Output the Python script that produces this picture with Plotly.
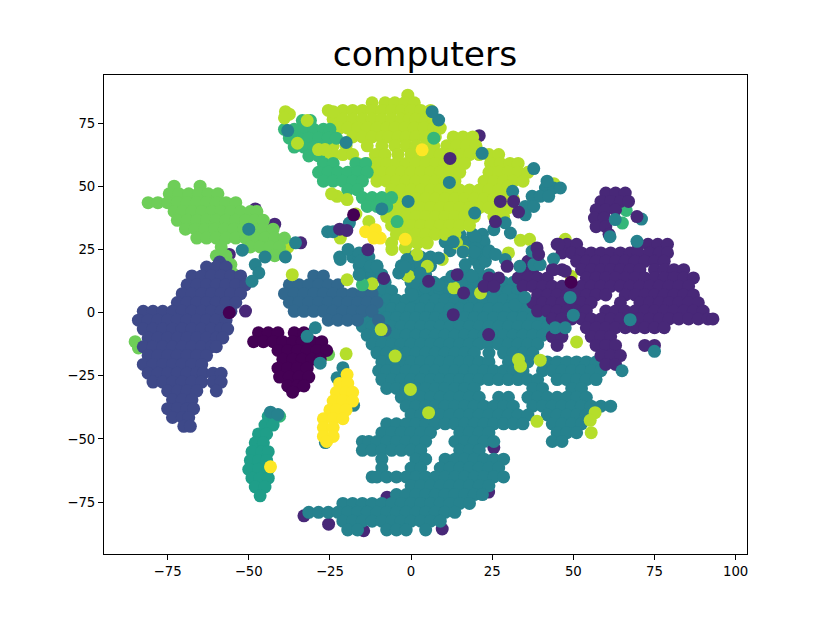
# t-SNE style scatter "computers"
import plotly.graph_objects as go

x_ticks = [-75, -50, -25, 0, 25, 50, 75, 100]
y_ticks = [-75, -50, -25, 0, 25, 50, 75]

# class colours
c_dark = "#440154"
c_purple = "#482878"
c_indigo = "#3e4989"
c_steel = "#31688e"
c_teal = "#26828e"
c_sea = "#1f9e89"
c_green = "#35b779"
c_lime = "#6ece58"
c_yg = "#b5de2b"
c_yellow = "#fde725"

# rows: y value -> x values
teal_rows = {
    31: [12, 15, 19, 22],
    28: [10.5, 13.5, 16.5, 19.5, 22.5],
    24.5: [12, 18, 21, 24],
    22: [-22, -18, -16, -13, 0, 3, 6],
    21: [19.5, 22.5],
    18.5: [-16, -13, -10.5, -3, 0, 3, 6, 21],
    15: [-15, -12, -9, -1.5, 1.5, 4.5, 15, 18, 21, 24],
    12: [-12, -8, 0, 3, 7, 10.5, 13.5, 16.5, 19.5, 22.5, 25.5, 28.5, 31.5],
    8.5: [-12, -9, -6, 0, 3, 6, 9, 12, 15, 18, 21, 24, 27, 30, 33],
    5: [-13.5, -10.5, -7.5, -4.5, -1.5, 1.5, 4.5, 7.5, 10.5, 13.5, 16.5, 19.5, 22.5, 25.5, 28.5, 31.5, 34.5],
    1.5: [-15, -12, -9, -6, -3, 0, 3, 6, 9, 12, 15, 18, 21, 24, 27, 30, 33, 36],
    -2: [-13.5, -10.5, -7.5, -4.5, -1.5, 1.5, 4.5, 7.5, 10.5, 13.5, 16.5, 19.5, 22.5, 25.5, 28.5, 31.5, 34.5, 37.5, 40.5, 43.5],
    -5.5: [-15, -12, -9, -6, -3, 0, 3, 6, 9, 12, 15, 18, 21, 24, 27, 30, 33, 36, 39, 42, 45],
    -9: [-13.5, -10.5, -7.5, -4.5, -1.5, 1.5, 4.5, 7.5, 10.5, 13.5, 16.5, 19.5, 22.5, 25.5, 28.5, 31.5, 34.5, 37.5, 40.5],
    -12.5: [-12, -9, -6, -3, 0, 3, 6, 9, 12, 15, 18, 21, 24, 27, 30, 33, 36, 39],
    -16: [-10.5, -7.5, -4.5, -1.5, 1.5, 4.5, 7.5, 10.5, 13.5, 16.5, 19.5, 24, 28.5, 31.5, 34.5, 37.5],
    -19.5: [-9, -6, -3, 0, 3, 6, 9, 12, 15, 18, 21, 24, 30, 33, 36, 42, 45, 48, 51, 54, 57],
    -23: [-10, -7.5, -4.5, -1.5, 1.5, 4.5, 7.5, 10.5, 13.5, 16.5, 19.5, 22.5, 25.5, 28.5, 31.5, 34.5, 40.5, 43.5, 46.5, 49.5, 52.5, 55.5, 58.5],
    -26.5: [-9, -6, -3, 0, 3, 6, 9, 12, 15, 18, 21, 24, 27, 30, 33, 36, 39, 45, 48, 51, 54, 57],
    -30: [-7.5, -4.5, -1.5, 1.5, 4.5, 7.5, 10.5, 13.5, 16.5, 19.5, 37.5, 40.5, 49.5, 52.5],
    -33.5: [-3, 0, 3, 6, 9, 12, 15, 18, 21, 27, 30, 36, 39, 42, 45, 48, 51, 54],
    -37: [-1.5, 1.5, 4.5, 7.5, 10.5, 13.5, 16.5, 19.5, 22.5, 25.5, 28.5, 31.5, 37.5, 40.5, 43.5, 46.5, 49.5, 52.5, 55.5, 58.5, 61.5],
    -40.5: [0, 3, 6, 9, 12, 15, 18, 21, 24, 27, 30, 33, 36, 42, 45, 48, 51, 54],
    -44: [-7.5, -4.5, -1.5, 1.5, 4.5, 7.5, 10.5, 13.5, 16.5, 19.5, 22.5, 25.5, 28.5, 31.5, 34.5, 43.5, 46.5, 49.5, 52.5],
    -47.5: [-9, -6, -3, 0, 3, 6, 15, 18, 21, 24, 45, 48, 51],
    -51: [-15, -13, -10.5, -7.5, -4.5, -1.5, 1.5, 4.5, 13.5, 16.5, 19.5, 22.5, 25.5, 43.5, 46.5],
    -54.5: [-15, -12, -9, -6, -3, 0, 3, 15, 18, 21],
    -58: [-9, 1.5, 4.5, 10.5, 13.5, 16.5, 19.5, 22.5, 25.5, 28.5],
    -61.5: [-9, 0, 3, 9, 12, 15, 18, 21, 24, 27],
    -65: [-12, -10.5, -7.5, -4.5, -1.5, 1.5, 4.5, 7.5, 10.5, 13.5, 16.5, 19.5, 22.5, 25.5, 28.5],
    -68.5: [0, 3, 6, 9, 12, 15, 18, 21, 24],
    -72: [-4.5, -1.5, 1.5, 4.5, 7.5, 10.5, 13.5, 16.5, 19.5, 22],
    -75.5: [-21, -18, -15, -12, -9, -6, -3, 0, 3, 6, 9, 12, 15, 18],
    -79: [-31.5, -28.5, -25.5, -22.5, -19.5, -16.5, -13.5, -10.5, -7.5, -4.5, -1.5, 1.5, 4.5, 7.5, 10.5, 13.5],
    -82.5: [-21, -18, -15, -12, -9, -6, -3, 0, 3, 6, 9],
    -86: [-19.5, -16.5, -7.5, -4.5, -1.5, 4.5],
}
teal_spots_x = [-38, -20, -0.9, -9, -19, -25.7, -24, -19.4, -16, -15.6, -21.8, -12.5, -16, -10.5, -3.8, -1.3, -2, 2.8, 1.8, 4.4, 0.3,
                -52, -45, -38.7, -35.6, -48, -46.9, -49, -50, 8.5, 6.5, 21.9, 37.8, 25.5, 30.6, 29, 19.6, 11.8, 31.3, 29, 33.5, 37.3,
                37.8, 39.8, 43.9, 19.8, 19.8, 16.7, 22.9, 8.5, 13, 12.6, 8.5, 18.8, 69.6, 71, 62.9, 61.3, 41.4, 43.9, 46, 41.9,
                37.3, 39.8, 42.4, 35.2, 37.8, 35.2, -21, -22.8, -17.7, -26.4, -32, -29.5, -28, 75, 65, 67.5, 49, 19.5, 16, 24, 26,
                44.4, 47.5, 32, 35, 50]
teal_spots_y = [72, 67.3, 44, 41, 35.4, 32, 32, 25, 23.6, 20.3, 21, 18.3, 15, 18, 15.7, 21, 18, 15.7, 11, 10, 7,
                24.7, 22, 22, 27.6, 19, 15.7, 12.4, 33, 76.2, 79.5, 63, 57, 32.8, 31.5, 35.5, 39.4, 51.5, 48, 21, 18.3, 24.3,
                19, 19, 21.2, 29.5, 25.5, 19, 20.3, 21.6, 28, 14.4, 11, 14.4, 28.2, 37, 36.8, 30, 49.3, 49.3, 49.3, 52,
                46, 46, 46, 42, 42, 38.7, -21.8, -25.8, -36.7, -51.4, -9.4, -6, -20, -15.3, -23, -2.8, 6, 24, 24, 24, 23,
                -6, -6, 3, 6, -1]

steel_rows = {
    14.5: [-30, -27],
    11: [-37.5, -34.5, -31.5, -28.5, -25.5, -22.5],
    7.5: [-39, -36, -33, -30, -27, -24, -21, -18, -15, -12],
    4: [-37.5, -34.5, -31.5, -28.5, -25.5, -22.5, -19.5, -16.5, -13.5, -10.5],
    0.5: [-36, -33, -30, -27, -24, -21, -18, -15, -12],
    -3: [-25.5, -22.5, -19.5, -16.5, -10],
    -7: [-8],
}

yg_rows = {
    86: [-1],
    83: [-12, -8, -5, -2, 1],
    80: [-25.5, -21, -18, -15, -12, -9, -6, -3, 0, 3, 6],
    76.5: [-24, -21, -18, -15, -12, -9, -6, -3, -0.5, 1.5, 4.5, 7],
    73: [-22, -19.5, -16.5, -13.5, -10.5, -7.5, -5, -2, 1, 4, 7, 9],
    69.5: [-18, -15, -12, -9, -7, -4, -1.5, 1.5, 4.5, 7.5, 13, 16, 19],
    66: [-27, -24, -20, -13.5, -9, -5, -1.5, 1.5, 4.5, 7, 11, 14, 17, 20],
    62.5: [-27, -24, -21, -18, -11, -8, -4, 0, 3, 6, 9, 12, 15, 18, 21, 24, 27],
    59: [-16.5, -13.5, -10.5, -7.5, -4.5, -1.5, 1.5, 4.5, 7.5, 10.5, 13.5, 16.5, 24.5, 27.5, 30.5, 33],
    55.5: [-12, -9, -6, -3, 0, 3, 6, 9, 12, 15, 24, 27, 30, 33, 36],
    52: [-10.5, -7.5, -4.5, -1.5, 1.5, 4.5, 7.5, 10.5, 13.5, 22.5, 25.5, 28.5, 31.5, 34.5],
    48.5: [-6, -3, 0, 3, 6, 9, 12, 15, 18, 21, 24, 27, 30],
    45: [-7.5, -4.5, -1.5, 1.5, 4.5, 7.5, 10.5, 13.5, 16.5, 19.5, 22.5, 25.5, 28.5, 31.5],
    41.5: [-6, -3, 0, 3, 6, 9, 12, 15, 18, 21, 24, 27, 30],
    38: [-7.5, -4.5, -1.5, 1.5, 4.5, 7.5, 10.5, 13.5, 16.5, 19.5, 25.5, 28.5],
    34.5: [-6, -3, 0, 3, 6, 9, 12, 15, 18],
    31: [-4.5, -1.5, 1.5, 4.5, 7.5, 10.5, 13.5],
    27.5: [-6, -1, 2, 5, 14],
}
yg_spots_x = [-22.8, -19.7, -24.5, -24, -36.6, -38, -21.8, -5.9, -1.8, 1.8, -0.8, -12, -19.7, -38.7, -37.5, -39, -32, -28.5, -26.5,
              9.6, 16.2, 13.2, 21.4, 30, 33.7, 36.5, 5, 47.5, 38.8, 49.3, 51, 39.8, 33.7, 33.1, 5.4, 56.7, 55.2, 38.8, 55.5,
              -4.9, -9.2, -0.2, -20, -35, 44, 42, 30, -17, -13]
yg_spots_y = [46, 44.7, 47, 79.5, 15, 25.8, 29.5, 25, 25.6, 23, 14.4, 11.4, 13, 79.5, 78.5, 77, 76, 64.5, 64.5,
              21, 24.3, 9.8, 7.8, 23.6, 28.6, 29, 18.3, 29, 22, 14.4, -11.6, -18.8, -21.2, -18.6, -39.6, -39.6, -42.6, -43, -47.5,
              -17.2, -6.7, -30.4, -16.3, 67, 51, 48, 50, 39, 36]

green_rows = {
    76: [-33.5, -31],
    72.5: [-39, -36, -33, -30, -27, -25],
    69: [-37.5, -34.5, -31.5, -28.5, -25.5, -23],
    65.5: [-36, -33, -30, -27],
    62: [-31.5, -28.5],
    59: [-27, -24, -17, -14],
    55.5: [-28.5, -25.5, -22.5, -19.5, -16.5, -13.5],
    52: [-27, -24, -21, -18, -15],
    48.5: [-19.5, -16.5],
    45.5: [-15, -12, -9, -6],
    42: [-13.5, -10.5, -7.5],
}
green_spots_x = [7, 66.3, 65.1, -4.3, -15, -40.5]
green_spots_y = [69, 40.4, 35.4, 36, 11, -41]

lime_rows = {
    50: [-73, -65],
    47: [-74.5, -71.5, -68.5, -65.5, -62.5, -59.5],
    43.5: [-81, -78, -75, -72, -69, -66, -63, -60, -57, -54],
    40: [-73, -70.5, -67.5, -64.5, -61.5, -58.5, -55.5, -52.5, -49.5, -47.5],
    36.5: [-72, -69, -66, -63, -60, -57, -54, -51, -48, -45.5],
    33: [-69.5, -66.5, -63.5, -60.5, -57.5, -54.5, -51.5, -48.5, -45.5, -42.5],
    29.5: [-66, -63, -60, -57, -54, -51, -48, -45, -42, -39],
    26: [-58.5, -49.5, -46.5, -43.5, -40.5],
    22.5: [-60, -57, -42, -39],
    19: [-58.5, -55.5],
    15.5: [-57, -55],
    12: [-56],
}
lime_spots_x = [-85, -84, -25.4]
lime_spots_y = [-11.5, -14, -16.6]

indigo_rows = {
    20: [-59],
    18: [-63, -60, -57],
    14.5: [-67.5, -64.5, -61.5, -58.5, -55.5, -52.5],
    11: [-69, -66, -63, -60, -57, -54, -51],
    7.5: [-70.5, -67.5, -64.5, -61.5, -58.5, -55.5, -52.5],
    4: [-72, -69, -66, -63, -60, -57, -54],
    0.5: [-82.5, -79.5, -76.5, -73.5, -70.5, -67.5, -64.5, -61.5, -58.5, -55.5],
    -3: [-84, -81, -78, -75, -72, -69, -66, -63, -60, -57],
    -6.5: [-82.5, -79.5, -76.5, -73.5, -70.5, -67.5, -64.5, -61.5, -58.5, -56.5],
    -10: [-81, -78, -75, -72, -69, -66, -63, -60, -58],
    -13.5: [-82.5, -79.5, -76.5, -73.5, -70.5, -67.5, -64.5, -61.5, -60],
    -17: [-81, -78, -75, -72, -69, -66, -63],
    -20.5: [-82.5, -79.5, -76.5, -73.5, -70.5, -67.5, -64.5],
    -24: [-81, -78, -75, -72, -69, -66, -64, -61, -58.5],
    -27.5: [-79.5, -76.5, -73.5, -70.5, -67.5, -64.5, -61, -58.5],
    -31: [-75, -72, -69, -66, -60],
    -34.5: [-73.5, -70.5, -67.5],
    -38: [-75, -72, -69, -67],
    -41.5: [-73.5, -70.5, -68.5],
    -45: [-70, -68],
}

purple_rows = {
    47.3: [60, 63, 66],
    44: [58.5, 61.5, 64.5, 67],
    40.7: [57, 60, 63],
    37.4: [56.5, 59.5],
    34: [57, 60],
    31: [61],
    27: [45, 48, 51, 70, 73, 76, 79],
    23.6: [46.5, 49.5, 52.5, 55.5, 58.5, 61.5, 64.5, 67.5, 70, 73.5, 76.5, 79],
    20.3: [36, 39, 51, 54, 57, 60, 63, 66, 69, 72, 75, 78],
    17: [34.5, 37.5, 43.5, 46.5, 52.5, 55.5, 58.5, 61.5, 64.5, 67.5, 70.5, 75, 78, 81, 84],
    13.7: [24, 27, 33, 36, 39, 42, 54, 57, 60, 63, 66, 69, 72, 75, 78, 81, 84, 87],
    10.4: [22.5, 25.5, 34.5, 37.5, 40.5, 43.5, 46.5, 49.5, 52.5, 55.5, 58.5, 61.5, 64.5, 67.5, 70.5, 73.5, 76.5, 79.5, 82.5, 85.5],
    7: [39, 42, 45, 48, 51, 54, 57, 60, 66, 69, 72, 75, 78, 81, 84, 87],
    3.9: [37.5, 40.5, 43.5, 46.5, 49.5, 52.5, 55.5, 64.5, 70.5, 73.5, 76.5, 79.5, 82.5, 85.5, 88.5],
    0.6: [39, 42, 45, 48, 51, 54, 60, 63, 66, 69, 72, 75, 78, 81, 84, 87, 90],
    -2.5: [43.5, 46.5, 49.5, 52.5, 55.5, 58.5, 61.5, 64.5, 67.5, 70.5, 73.5, 76.5, 79.5, 82.5, 85.5, 88.5, 91.5, 93],
    -6: [54, 57, 60, 63, 66, 69, 72, 75, 78],
    -9.5: [43.5, 46.5, 55.5, 58.5, 61.5],
    -13: [45, 57, 60, 63, 72, 75],
    -17: [58.5, 61.5, 64.5],
    -20.5: [60, 63],
}
purple_spots_x = [69.6, 12, 33.1, 31.6, 27.5, 26, 5.4, 14.2, 16.2, 38.8, 39.3, 29.6, 47.5, 43.9, 45.5, 23.9, 13,
                  -22, -19.8, -13.3, -8.4, -51]
purple_spots_y = [38, 61, 39.8, 44, 44, 36, 12.4, 15, 7.8, 25.6, 23, 18.3, 16.4, 17, 27, -8.7, -0.8,
                  33, 32.5, 24.9, 13.5, 0.6]

dark_rows = {
    -8: [-47, -44, -41, -36, -33],
    -11.5: [-48.5, -45.5, -42.5, -39.5, -36.5, -33.5, -30.5, -27.5],
    -15: [-41, -38, -35, -32, -29, -26],
    -18.5: [-39.5, -36.5, -33.5, -30.5, -28],
    -22: [-41, -38, -35, -32],
    -25.5: [-40.5, -37.5, -34.5, -31.5],
    -29: [-38, -35, -33],
    -31.5: [-36.5],
}
dark_spots_x = [-17.7, -56, 49.3]
dark_spots_y = [38.7, 0, 12]

# specks left behind the big teal shape
under_x = [9.6, 23.9, 25.5, -33, -25.4, -7.4, -14.6, -48, -42, -34, -56, 21, 5]
under_y = [-85.6, -71, -53.4, -80.4, -83.7, -73, -86.3, 41, 35, 27.6, 23, 70, -12]

sea_rows = {
    -41: [-44, -41.5],
    -44.5: [-45, -42.5],
    -48: [-47, -44.5],
    -51.5: [-48, -45.5],
    -55: [-49, -46, -44],
    -58.5: [-49.5, -47, -44.5],
    -62: [-50, -47, -44],
    -65.5: [-49, -46.5, -44],
    -69: [-48, -45],
    -72.5: [-46.5],
}
teal_top_x = [-43.3, -41]
teal_top_y = [-39.4, -40.3]

yellow_rows = {
    -24.5: [-19.7],
    -28: [-22, -19.5],
    -31.5: [-23, -20, -18],
    -35: [-24, -21, -18],
    -38.5: [-25, -23, -20],
    -42: [-27, -24, -21],
    -45.5: [-27, -24],
    -49: [-27, -24],
    -51: [-26],
}
yellow_spots_x = [-14, -11, -9.5, -11.5, -1.8, 3.4, -43.3]
yellow_spots_y = [32, 32.8, 29.5, 29.5, 29, 64.4, -61]


def expand(rows):
    xs = [x for y, row in rows.items() for x in row]
    ys = [y for y, row in rows.items() for x in row]
    return xs, ys


def add_points(fig, xs, ys, color):
    fig.add_trace(go.Scatter(x=xs, y=ys, mode="markers",
                             marker=dict(color=color, size=13, line=dict(width=0)),
                             showlegend=False))


fig = go.Figure()

add_points(fig, under_x, under_y, c_purple)
add_points(fig, *expand(teal_rows), c_teal)
add_points(fig, *expand(steel_rows), c_steel)
add_points(fig, *expand(yg_rows), c_yg)
add_points(fig, *expand(green_rows), c_green)
add_points(fig, yg_spots_x, yg_spots_y, c_yg)
add_points(fig, green_spots_x, green_spots_y, c_green)
add_points(fig, *expand(lime_rows), c_lime)
add_points(fig, lime_spots_x, lime_spots_y, c_lime)
add_points(fig, *expand(indigo_rows), c_indigo)
add_points(fig, *expand(purple_rows), c_purple)
add_points(fig, *expand(dark_rows), c_dark)
add_points(fig, teal_spots_x, teal_spots_y, c_teal)
add_points(fig, purple_spots_x, purple_spots_y, c_purple)
add_points(fig, dark_spots_x, dark_spots_y, c_dark)
add_points(fig, *expand(sea_rows), c_sea)
add_points(fig, teal_top_x, teal_top_y, c_teal)
add_points(fig, *expand(yellow_rows), c_yellow)
add_points(fig, yellow_spots_x, yellow_spots_y, c_yellow)

axis_style = dict(showgrid=False, zeroline=False, showline=True, mirror=True,
                  linecolor="black", linewidth=1, ticks="outside", ticklen=5,
                  tickwidth=1, tickcolor="black",
                  tickfont=dict(family="DejaVu Sans", size=13.3, color="black"))

fig.update_layout(
    width=830, height=623,
    margin=dict(l=96, r=91, t=67, b=77),
    paper_bgcolor="white", plot_bgcolor="white",
    title=dict(text="computers", x=0.5024, xanchor="center", y=0.9075, yanchor="bottom",
               font=dict(family="DejaVu Sans", size=34.5, color="black")),
    xaxis=dict(range=[-94.6, 103.5], tickvals=x_ticks, **axis_style),
    yaxis=dict(range=[-95.5, 94], tickvals=y_ticks, **axis_style),
)

fig.write_html("out.html")
